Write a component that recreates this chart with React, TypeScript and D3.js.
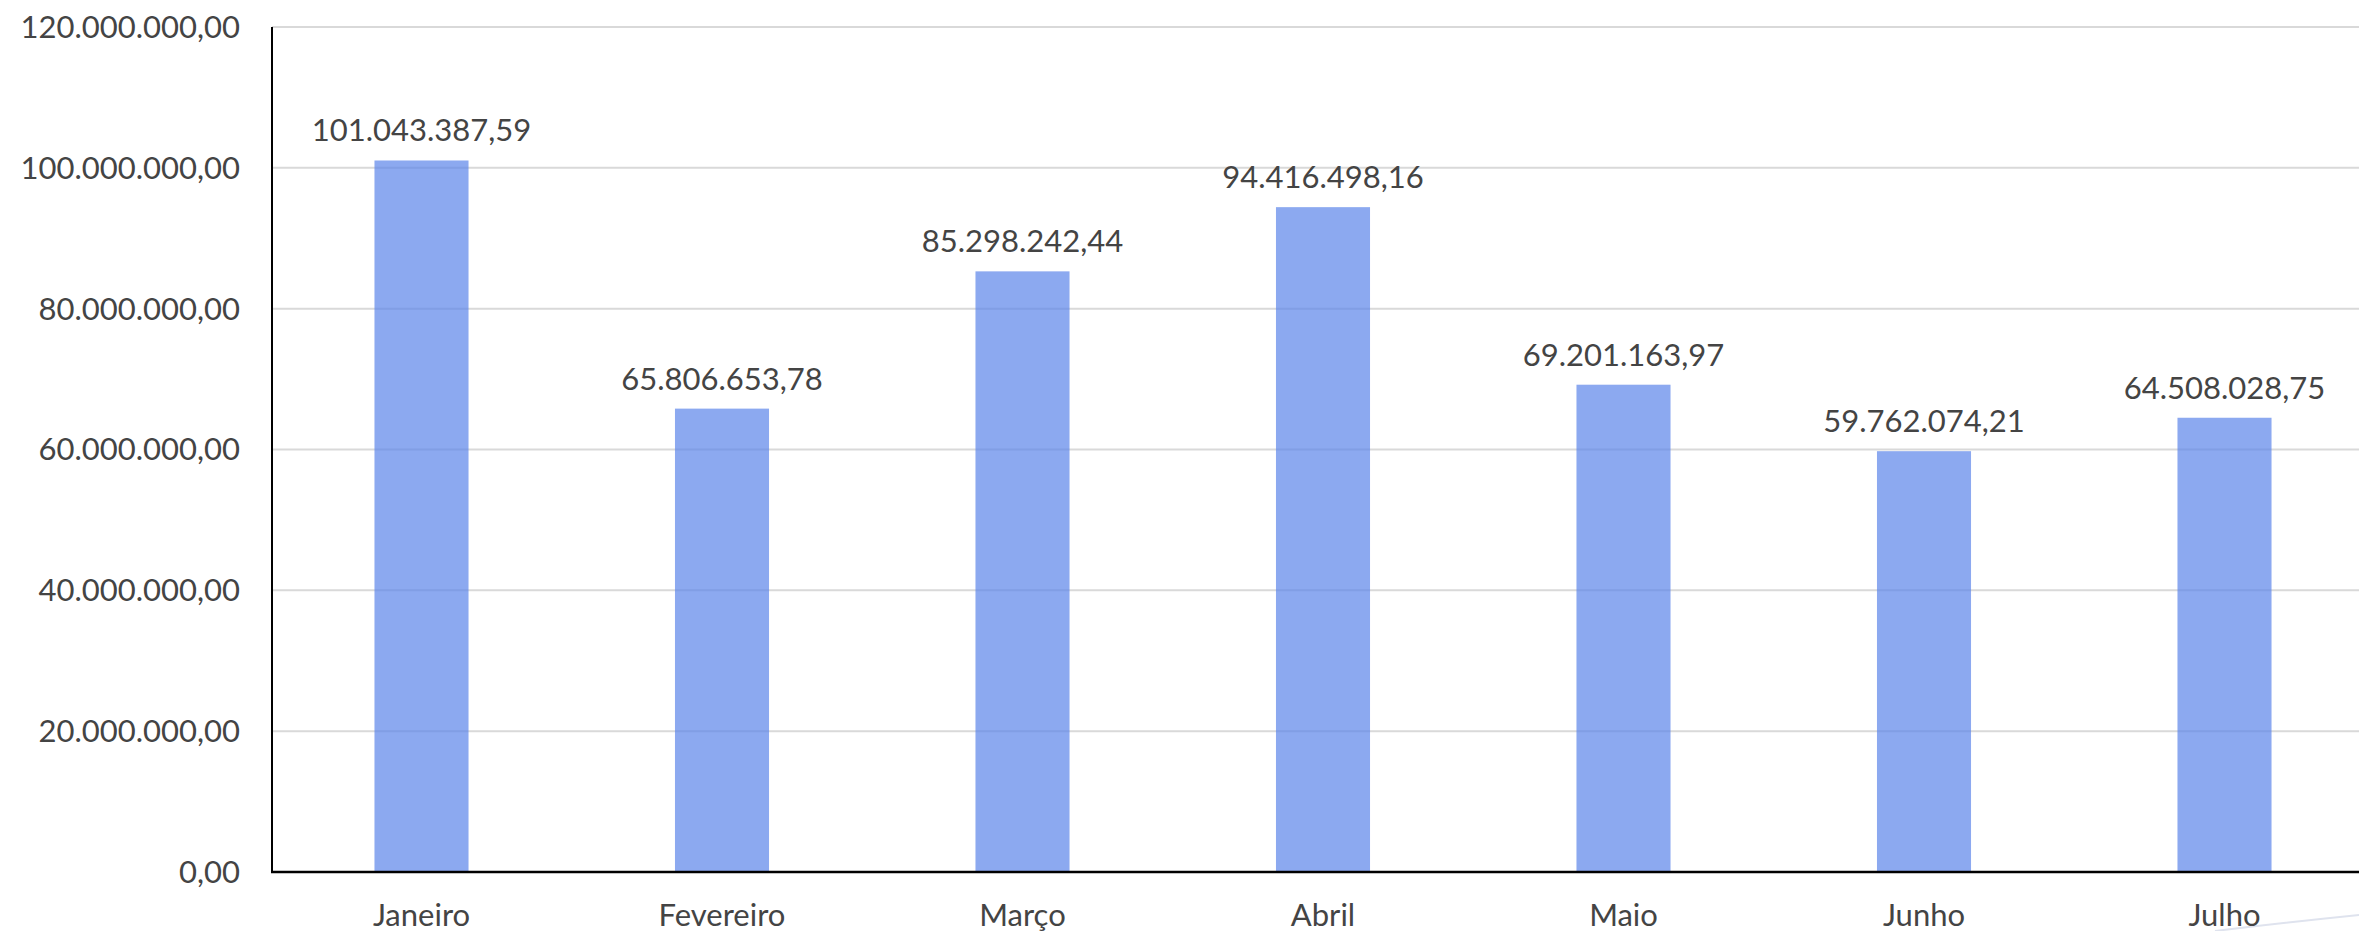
import React, { useEffect } from "react";
import * as d3 from "d3";

const months = ["Janeiro", "Fevereiro", "Março", "Abril", "Maio", "Junho", "Julho"];
const values = [101043387.59, 65806653.78, 85298242.44, 94416498.16, 69201163.97, 59762074.21, 64508028.75];
const yTicks = [0, 20000000, 40000000, 60000000, 80000000, 100000000, 120000000];

const W = 2359;
const H = 931;

const locale = d3.formatLocale({ decimal: ",", thousands: ".", grouping: [3], currency: ["R$", ""] });
const fmt = locale.format(",.2f");

export default function App() {
  useEffect(() => {
    document.body.style.margin = "0";
    document.body.style.overflow = "hidden";
  }, []);

  const x = d3.scaleBand<string>().domain(months).range([271.25, 2374.75]).paddingInner(0.687).paddingOuter(0.3435);
  const y = d3.scaleLinear().domain([0, 120000000]).range([872, 27]);
  const font = "Lato, 'Open Sans', sans-serif";
  const textColor = "#444444";
  const fs = 31;

  return (
    <svg width={W} height={H} style={{ position: "absolute", left: 0, top: 0, background: "#fff" }} fontFamily={font}>
      <rect x={0} y={0} width={W} height={H} fill="#ffffff" />
      {/* faint decoration */}
      <path d={`M2215,931 Q2290,922 2359,915`} fill="none" stroke="#dfe3ee" strokeWidth={2} />
      {/* grid */}
      {yTicks.map((t) => (
        <line key={"g" + t} x1={272} x2={W} y1={y(t)} y2={y(t)} stroke="#d9d9d9" strokeWidth={2} />
      ))}
      {/* bars */}
      {months.map((m, i) => (
        <rect
          key={m}
          x={x(m)}
          y={y(values[i])}
          width={x.bandwidth()}
          height={y(0) - y(values[i])}
          fill="rgb(91,133,234)"
          fillOpacity={0.7}
        />
      ))}
      {/* axes */}
      <line x1={272} x2={272} y1={y(120000000)} y2={y(0) + 1} stroke="#000" strokeWidth={2} />
      <line x1={271} x2={W} y1={y(0)} y2={y(0)} stroke="#000" strokeWidth={2.5} />
      {/* y tick labels */}
      {yTicks.map((t) => (
        <text key={"t" + t} x={240} y={y(t)} dy="0.35em" textAnchor="end" fontSize={fs} fill={textColor}>
          {fmt(t)}
        </text>
      ))}
      {/* x labels */}
      {months.map((m) => (
        <text key={"x" + m} x={(x(m) as number) + x.bandwidth() / 2} y={926} textAnchor="middle" fontSize={fs} fill={textColor}>
          {m}
        </text>
      ))}
      {/* value labels */}
      {months.map((m, i) => (
        <text
          key={"v" + m}
          x={(x(m) as number) + x.bandwidth() / 2}
          y={y(values[i]) - 19}
          textAnchor="middle"
          fontSize={fs}
          fill={textColor}
        >
          {fmt(values[i])}
        </text>
      ))}
    </svg>
  );
}
